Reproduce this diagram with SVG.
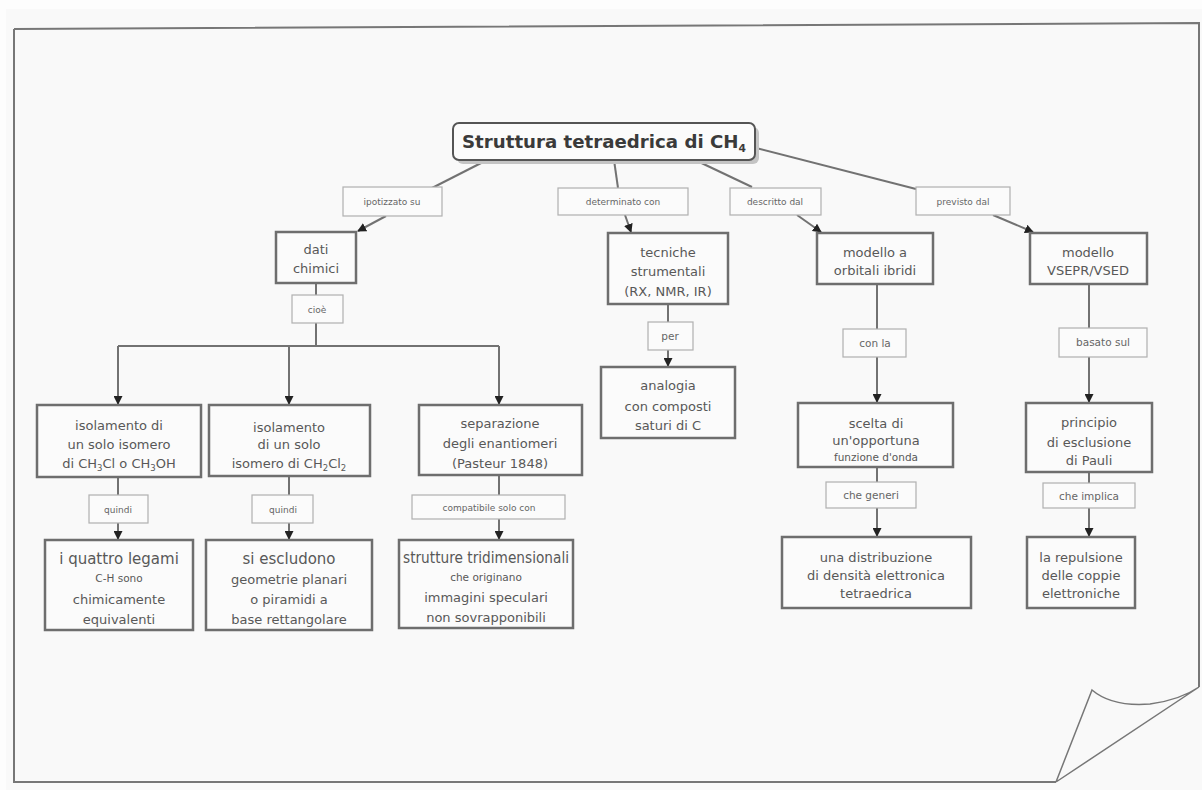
<svg xmlns="http://www.w3.org/2000/svg" width="1202" height="790" viewBox="0 0 1202 790">
<defs>
<marker id="arr" markerUnits="userSpaceOnUse" markerWidth="9" markerHeight="9" refX="8" refY="4.5" orient="auto">
<path d="M0,0 L9,4.5 L0,9 z" fill="#222"/>
</marker>
<style>
.c{fill:#fbfbfb;stroke:#6e6e6e;stroke-width:2.5}
.l{fill:#fbfbfb;stroke:#b0b0b0;stroke-width:1.2}
.t{font-family:"DejaVu Sans","Liberation Sans",sans-serif;font-size:13px;fill:#585858;text-anchor:middle}
.s{font-family:"DejaVu Sans","Liberation Sans",sans-serif;font-size:9px;fill:#666;text-anchor:middle}
.m{font-size:10.5px}
.big{font-size:15px}
.sm{font-size:10.5px}
.e{fill:none;stroke:#727272;stroke-width:2}
.a{fill:none;stroke:#727272;stroke-width:2;marker-end:url(#arr)}
</style>
</defs>
<rect x="0" y="0" width="1202" height="790" fill="#fdfdfd"/>
<rect x="6" y="9" width="1196" height="781" fill="#f9f9f9"/>
<g id="page" fill="none" stroke="#777">
<path d="M14,29 L1199,23 L1199,687" stroke-width="2"/>
<path d="M14,29 L14,782 L1056,782" stroke-width="2"/>
<path d="M1056,782 L1092,690 Q1112,707 1150,704 Q1180,700 1199,687 L1056,782" stroke-width="1.5" fill="#f9f9f9"/>
</g>

<g id="connectors">
<path class="e" d="M487,160 L432,188"/>
<path class="a" d="M386,216 L358,231"/>
<path class="e" d="M614,160 L618,188"/>
<path class="a" d="M625,215 L631,232"/>
<path class="e" d="M693,159 L752,187"/>
<path class="a" d="M797,215 L821,232"/>
<path class="e" d="M756,148 L916,189"/>
<path class="a" d="M993,215 L1033,232"/>
<path class="e" d="M316,283 L316,295"/>
<path class="e" d="M316,323 L316,346"/>
<path class="e" d="M118,346 L499,346"/>
<path class="a" d="M118,346 L118,404"/>
<path class="a" d="M289,346 L289,404"/>
<path class="a" d="M499,346 L499,404"/>
<path class="e" d="M118,477 L118,495"/>
<path class="a" d="M118,523 L118,539"/>
<path class="e" d="M289,476 L289,495"/>
<path class="a" d="M289,523 L289,539"/>
<path class="e" d="M499,475 L499,495"/>
<path class="a" d="M499,519 L499,539"/>
<path class="e" d="M668,304 L668,322"/>
<path class="a" d="M668,350 L668,366"/>
<path class="e" d="M877,284 L877,329"/>
<path class="a" d="M877,357 L877,402"/>
<path class="e" d="M877,467 L877,482"/>
<path class="a" d="M877,508 L877,536"/>
<path class="e" d="M1089,284 L1089,328"/>
<path class="a" d="M1089,357 L1089,402"/>
<path class="e" d="M1089,472 L1089,483"/>
<path class="a" d="M1089,508 L1089,536"/>
</g>

<g id="title">
<rect x="457" y="127" width="302" height="37" rx="6" fill="#c4c4c4"/>
<rect x="453" y="123" width="302" height="37" rx="6" fill="#fbfbfb" stroke="#555" stroke-width="2"/>
<text x="604" y="148" font-family="'DejaVu Sans','Liberation Sans',sans-serif" font-size="17" font-weight="bold" fill="#3a3a3a" text-anchor="middle" textLength="284" lengthAdjust="spacingAndGlyphs">Struttura tetraedrica di CH<tspan font-size="10" dy="4">4</tspan></text>
</g>

<g id="lbl-ipotizzato"><rect class="l" x="343" y="187" width="99" height="29"/><text class="s" x="392" y="205">ipotizzato su</text></g>
<g id="lbl-determinato"><rect class="l" x="558" y="188" width="130" height="27"/><text class="s" x="623" y="205">determinato con</text></g>
<g id="lbl-descritto"><rect class="l" x="730" y="188" width="91" height="27"/><text class="s" x="775" y="205">descritto dal</text></g>
<g id="lbl-previsto"><rect class="l" x="916" y="187" width="94" height="28"/><text class="s" x="963" y="205">previsto dal</text></g>

<g id="dati"><rect class="c" x="276" y="232" width="80" height="51"/><text class="t" x="316" y="254">dati</text><text class="t" x="316" y="273">chimici</text></g>
<g id="lbl-cioe"><rect class="l" x="292" y="295" width="51" height="28"/><text class="s" x="317" y="313">cioè</text></g>

<g id="isol1"><rect class="c" x="37" y="405" width="164" height="72"/>
<text class="t" x="119" y="430">isolamento di</text>
<text class="t" x="119" y="449">un solo isomero</text>
<text class="t" x="119" y="468">di CH<tspan font-size="8.5" dy="3">3</tspan><tspan dy="-3">Cl o CH</tspan><tspan font-size="8.5" dy="3">3</tspan><tspan dy="-3">OH</tspan></text></g>
<g id="isol2"><rect class="c" x="209" y="405" width="161" height="71"/>
<text class="t" x="289" y="432">isolamento</text>
<text class="t" x="289" y="449">di un solo</text>
<text class="t" x="289" y="468">isomero di CH<tspan font-size="8.5" dy="3">2</tspan><tspan dy="-3">Cl</tspan><tspan font-size="8.5" dy="3">2</tspan></text></g>
<g id="separ"><rect class="c" x="419" y="405" width="163" height="70"/>
<text class="t" x="500" y="428">separazione</text>
<text class="t" x="500" y="448">degli enantiomeri</text>
<text class="t" x="500" y="468">(Pasteur 1848)</text></g>

<g id="lbl-quindi1"><rect class="l" x="89" y="495" width="59" height="28"/><text class="s" x="118" y="513">quindi</text></g>
<g id="lbl-quindi2"><rect class="l" x="252" y="495" width="61" height="28"/><text class="s" x="283" y="513">quindi</text></g>
<g id="lbl-compatibile"><rect class="l" x="412" y="495" width="153" height="24"/><text class="s" x="489" y="511">compatibile solo con</text></g>

<g id="legami"><rect class="c" x="45" y="540" width="148" height="90"/>
<text class="t big" x="119" y="564">i quattro legami</text>
<text class="t sm" x="119" y="582">C-H sono</text>
<text class="t" x="119" y="604">chimicamente</text>
<text class="t" x="119" y="624">equivalenti</text></g>
<g id="escludono"><rect class="c" x="206" y="540" width="166" height="90"/>
<text class="t big" x="289" y="564">si escludono</text>
<text class="t" x="289" y="584">geometrie planari</text>
<text class="t" x="289" y="604">o piramidi a</text>
<text class="t" x="289" y="624">base rettangolare</text></g>
<g id="strutture"><rect class="c" x="399" y="540" width="174" height="88"/>
<text class="t big" x="486" y="563" textLength="166" lengthAdjust="spacingAndGlyphs">strutture tridimensionali</text>
<text class="t sm" x="486" y="581">che originano</text>
<text class="t" x="486" y="602">immagini speculari</text>
<text class="t" x="486" y="622">non sovrapponibili</text></g>

<g id="tecniche"><rect class="c" x="608" y="233" width="120" height="71"/>
<text class="t" x="668" y="257">tecniche</text>
<text class="t" x="668" y="276">strumentali</text>
<text class="t" x="668" y="296">(RX, NMR, IR)</text></g>
<g id="lbl-per"><rect class="l" x="648" y="322" width="45" height="28"/><text class="s m" x="670" y="340">per</text></g>
<g id="analogia"><rect class="c" x="601" y="367" width="134" height="71"/>
<text class="t" x="668" y="390">analogia</text>
<text class="t" x="668" y="411">con composti</text>
<text class="t" x="668" y="430">saturi di C</text></g>

<g id="orbitali"><rect class="c" x="817" y="233" width="116" height="51"/>
<text class="t" x="875" y="257">modello a</text>
<text class="t" x="875" y="275">orbitali ibridi</text></g>
<g id="lbl-conla"><rect class="l" x="843" y="329" width="63" height="28"/><text class="s m" x="875" y="347">con la</text></g>
<g id="scelta"><rect class="c" x="798" y="403" width="155" height="64"/>
<text class="t" x="876" y="428">scelta di</text>
<text class="t" x="876" y="445">un'opportuna</text>
<text class="t sm" x="876" y="461">funzione d'onda</text></g>
<g id="lbl-generi"><rect class="l" x="826" y="482" width="90" height="26"/><text class="s m" x="871" y="499">che generi</text></g>
<g id="distribuzione"><rect class="c" x="782" y="537" width="189" height="71"/>
<text class="t" x="876" y="562">una distribuzione</text>
<text class="t" x="876" y="580">di densità elettronica</text>
<text class="t" x="876" y="598">tetraedrica</text></g>

<g id="vsepr"><rect class="c" x="1030" y="233" width="117" height="51"/>
<text class="t" x="1088" y="257">modello</text>
<text class="t" x="1088" y="275">VSEPR/VSED</text></g>
<g id="lbl-basato"><rect class="l" x="1059" y="328" width="88" height="29"/><text class="s m" x="1103" y="346">basato sul</text></g>
<g id="principio"><rect class="c" x="1026" y="403" width="126" height="69"/>
<text class="t" x="1089" y="427">principio</text>
<text class="t" x="1089" y="447">di esclusione</text>
<text class="t" x="1089" y="465">di Pauli</text></g>
<g id="lbl-implica"><rect class="l" x="1043" y="483" width="92" height="25"/><text class="s m" x="1089" y="500">che implica</text></g>
<g id="repulsione"><rect class="c" x="1027" y="537" width="108" height="71"/>
<text class="t" x="1081" y="562">la repulsione</text>
<text class="t" x="1081" y="580">delle coppie</text>
<text class="t" x="1081" y="598">elettroniche</text></g>
</svg>
